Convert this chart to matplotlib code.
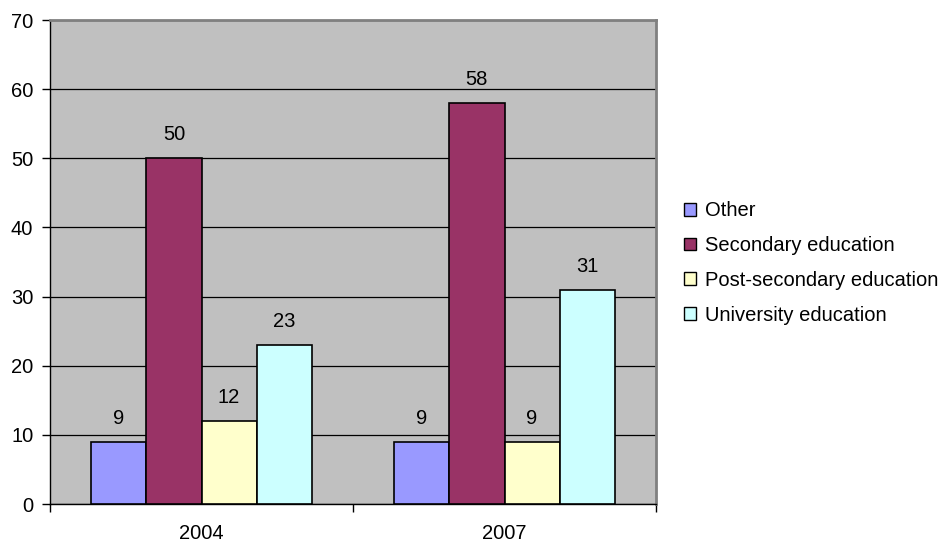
import matplotlib
matplotlib.use("Agg")
import matplotlib.pyplot as plt
from matplotlib.patches import Patch
import numpy as np

plt.rcParams['font.family'] = ['Liberation Sans', 'DejaVu Sans']

years = ["2004", "2007"]
series = ["Other", "Secondary education", "Post-secondary education", "University education"]
values = {
    "Other": [9, 9],
    "Secondary education": [50, 58],
    "Post-secondary education": [12, 9],
    "University education": [23, 31],
}
colors = ["#9999FF", "#993366", "#FFFFCC", "#CCFFFF"]
fs = 14.5

fig = plt.figure(figsize=(9.42, 5.44), dpi=100)
ax = fig.add_axes([50/942, 40/544, 606/942, 484/544])
ax.set_facecolor("#C0C0C0")

x = np.arange(len(years))
w = 0.182
offsets = (np.arange(len(series)) - 1.5) * w
for i, name in enumerate(series):
    vals = values[name]
    bars = ax.bar(x + offsets[i], vals, width=w, color=colors[i],
                  edgecolor="black", linewidth=1.2, zorder=3)
    for b, v in zip(bars, vals):
        ax.annotate(str(v), (b.get_x() + b.get_width()/2, v),
                    xytext=(0, 10), textcoords="offset points",
                    ha="center", va="bottom", fontsize=fs)

ax.set_xlim(-0.5, 1.5)
ax.set_ylim(0, 70)
ax.set_yticks(range(0, 71, 10))
ax.yaxis.grid(True, color="black", linewidth=0.9, zorder=0)
ax.set_axisbelow(True)
ax.set_xticks(x)
ax.set_xticklabels(years)
ax.set_xticks([-0.5, 0.5, 1.5], minor=True)
ax.tick_params(axis="x", which="major", length=0, pad=14.5, labelsize=fs)
ax.tick_params(axis="x", which="minor", length=6, width=1, color="black", direction="out")
ax.tick_params(axis="y", length=6, width=1, direction="out", labelsize=fs, pad=6)

for side in ["top", "right"]:
    ax.spines[side].set_color("#808080")
    ax.spines[side].set_linewidth(2)
for side in ["left", "bottom"]:
    ax.spines[side].set_color("black")
    ax.spines[side].set_linewidth(1)

handles = [Patch(facecolor=c, edgecolor="black", linewidth=1) for c in colors]
fig.legend(handles, series, loc="center left", bbox_to_anchor=(676/942, 1 - 263/544),
           frameon=False, fontsize=fs, handlelength=0.6, handleheight=0.6,
           handletextpad=0.45, labelspacing=0.78, borderaxespad=0)

fig.savefig("out.png", dpi=100)
